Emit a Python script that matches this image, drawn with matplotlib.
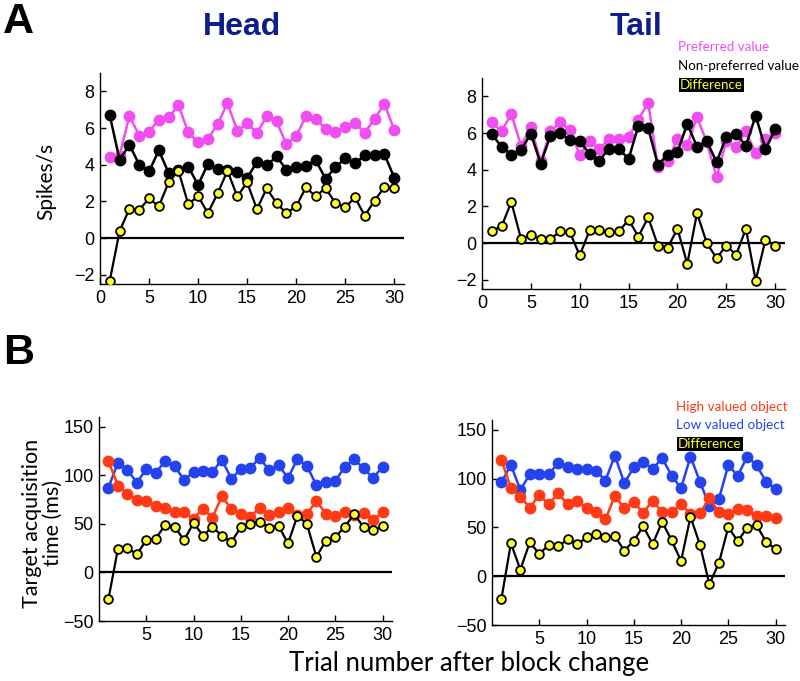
import numpy as np
import matplotlib
matplotlib.use("Agg")
import matplotlib.pyplot as plt

trials = np.arange(1, 31)

# Panel A, head (spikes/s)
head_pref = [4.4, 4.5, 6.67, 5.58, 5.8, 6.45, 6.58, 7.24, 5.76, 5.22,
             5.4, 6.22, 7.35, 5.85, 6.27, 5.73, 6.64, 6.36, 5.13, 5.55,
             6.64, 6.5, 5.96, 5.76, 6.04, 6.27, 5.75, 6.5, 7.33, 5.9]
head_nonpref = [6.69, 4.27, 5.09, 4.0, 3.64, 4.78, 3.55, 3.7, 3.9, 2.9,
                4.03, 3.78, 3.7, 3.6, 3.27, 4.15, 3.96, 4.45, 3.74, 3.86,
                3.95, 4.24, 3.24, 3.85, 4.35, 4.07, 4.53, 4.53, 4.58, 3.3]
head_diff = [-2.31, 0.38, 1.6, 1.55, 2.16, 1.73, 3.05, 3.67, 1.85, 2.29,
             1.36, 2.45, 3.67, 2.27, 3.04, 1.58, 2.71, 1.91, 1.36, 1.73,
             2.76, 2.27, 2.73, 1.91, 1.67, 2.22, 1.22, 2.05, 2.78, 2.74]

# Panel A, tail (spikes/s)
tail_pref = [6.58, 6.09, 7.05, 5.3, 6.33, 4.45, 6.09, 6.58, 6.15, 4.82,
             5.55, 5.15, 5.67, 5.69, 5.78, 6.73, 7.64, 4.15, 4.5, 5.69,
             5.36, 6.87, 5.49, 3.6, 5.55, 5.24, 6.09, 4.9, 5.67, 6.0]
tail_nonpref = [5.96, 5.24, 4.82, 5.09, 5.96, 4.33, 5.85, 6.0, 5.6, 5.55,
                4.87, 4.5, 5.15, 5.15, 4.58, 6.4, 6.27, 4.27, 4.82, 4.96,
                6.51, 5.24, 5.55, 4.42, 5.8, 5.96, 5.31, 6.95, 5.13, 6.2]
tail_diff = [0.67, 0.91, 2.24, 0.22, 0.45, 0.22, 0.22, 0.64, 0.58, -0.67,
             0.69, 0.73, 0.58, 0.64, 1.27, 0.36, 1.4, -0.13, -0.24, 0.78,
             -1.13, 1.64, 0.0, -0.82, -0.13, -0.64, 0.78, -2.04, 0.18, -0.15]

# Panel B, head (ms)
head_high = [114.7, 89.4, 81.2, 75, 73.6, 68.2, 66.4, 62.3, 62.3, 55.5,
             65.8, 56.5, 78.4, 65.4, 60.6, 57.2, 66.4, 59.6, 62.7, 66.8,
             59.0, 60.2, 73.6, 60.6, 57.6, 61.8, 59.5, 60.7, 53.8, 62.4]
head_low = [87.3, 113, 105.8, 92.5, 106.2, 102.7, 114.4, 109.2, 95.5, 103.4,
            104.5, 103.4, 116, 96.6, 106.2, 107.5, 118, 105.1, 110.3, 97.3,
            117, 109.6, 89.7, 93.2, 94.2, 108.6, 116.5, 107, 97.3, 108.6]
head_bdiff = [-27.4, 24, 25.3, 18.5, 33.2, 34.6, 49, 46.9, 33.2, 51,
              38, 46.6, 38, 31.2, 46.6, 50.3, 52.4, 46.2, 47.9, 29.8,
              58.6, 49.7, 16.1, 32.5, 36.6, 46.9, 60.3, 46.3, 43.6, 47.7]

# Panel B, tail (ms)
tail_high = [119.2, 90, 81.5, 70.2, 83.2, 73.6, 84.9, 73.6, 77.1, 70.2,
             66.1, 58.2, 82.5, 69.5, 75.7, 65.1, 77.4, 65.4, 65.4, 74,
             63.7, 64.4, 79.8, 65.4, 63.4, 68.5, 68, 61.5, 61.5, 60]
tail_low = [96.2, 114, 88.4, 104.5, 104.8, 104.5, 115.8, 111.6, 109.6, 109.9,
            108.2, 97.9, 123.6, 95.2, 111.6, 116.8, 109.9, 120.9, 103.1, 90,
            122.6, 96.9, 71.9, 78.8, 113.7, 102.9, 122.6, 113.4, 96.9, 89.4]
tail_bdiff = [-22.9, 33.6, 6.8, 34.6, 22.9, 31.8, 30.5, 37.7, 32.5, 39.7,
              42.8, 39.7, 40.8, 26.2, 36.3, 51, 33, 55.6, 36.8, 15.6,
              60.8, 32.3, -8.3, 13.4, 50.1, 36, 49.6, 52, 35.3, 27.7]

W, H = 800, 681
PINK = '#f04ef0'
RED = '#ff3a14'
BLUE = '#2443ee'
YELLOW = '#ffff2a'
NAVY = '#0c1d8c'
TICKFONT = 'Liberation Sans'
LABELFONT = 'Lato'


def px_axes(fig, left, top, right, bottom):
    return fig.add_axes([left / W, 1 - bottom / H, (right - left) / W, (bottom - top) / H])


def style(ax, xlim, ylim, xticks, yticks):
    ax.set_xlim(*xlim)
    ax.set_ylim(*ylim)
    ax.set_xticks(xticks)
    ax.set_yticks(yticks)
    for s in ['top', 'right']:
        ax.spines[s].set_visible(False)
    for s in ['left', 'bottom']:
        ax.spines[s].set_linewidth(1.0)
    ax.tick_params(direction='in', length=4, width=1, labelsize=13, pad=4)
    for lab in ax.get_xticklabels() + ax.get_yticklabels():
        lab.set_family(TICKFONT)
    ax.axhline(0, color='black', lw=1.6, zorder=1)


def series(ax, y, color):
    ax.plot(trials, y, '-o', color=color, lw=1.8, ms=7.5, mec=color, zorder=3)


def diff(ax, y):
    ax.plot(trials, y, '-o', color='black', lw=1.6, ms=6.3, mfc=YELLOW,
            mec='black', mew=1.3, zorder=4)


fig = plt.figure(figsize=(W / 100, H / 100), dpi=100)

a1 = px_axes(fig, 100, 73, 404, 284)
series(a1, head_pref, PINK)
series(a1, head_nonpref, 'black')
diff(a1, head_diff)
style(a1, (0, 31), (-2.5, 9), range(0, 31, 5), range(-2, 9, 2))

a2 = px_axes(fig, 482, 78, 785, 289)
series(a2, tail_pref, PINK)
series(a2, tail_nonpref, 'black')
diff(a2, tail_diff)
style(a2, (0, 31), (-2.5, 9), range(0, 31, 5), range(-2, 9, 2))

b1 = px_axes(fig, 99, 417, 392, 621)
series(b1, head_low, BLUE)
series(b1, head_high, RED)
diff(b1, head_bdiff)
style(b1, (0, 31), (-50, 160), range(5, 31, 5), range(-50, 151, 50))

b2 = px_axes(fig, 492, 420, 785, 625)
series(b2, tail_low, BLUE)
series(b2, tail_high, RED)
diff(b2, tail_bdiff)
style(b2, (0, 31), (-50, 160), range(5, 31, 5), range(-50, 151, 50))

# titles and panel letters
fig.text(242 / W, 1 - 27 / H, 'Head', ha='center', va='center', fontsize=23,
         fontweight='bold', color=NAVY, family=TICKFONT)
fig.text(636 / W, 1 - 27 / H, 'Tail', ha='center', va='center', fontsize=23,
         fontweight='bold', color=NAVY, family=TICKFONT)
fig.text(3 / W, 1 - 22 / H, 'A', ha='left', va='center', fontsize=31,
         fontweight='bold', family=TICKFONT)
fig.text(3 / W, 1 - 353 / H, 'B', ha='left', va='center', fontsize=31,
         fontweight='bold', family=TICKFONT)

# axis labels
fig.text(46 / W, 1 - 181 / H, 'Spikes/s', rotation=90, ha='center', va='center',
         fontsize=15, family=LABELFONT)
fig.text(42 / W, 1 - 523 / H, 'Target acquisition\ntime (ms)', rotation=90,
         ha='center', va='center', fontsize=15.5, family=LABELFONT, linespacing=1.05)
fig.text(469 / W, 1 - 664 / H, 'Trial number after block change', ha='center',
         va='center', fontsize=18.5, family=LABELFONT)

# legends
fig.text(678 / W, 1 - 47 / H, 'Preferred value', color=PINK, fontsize=9.6,
         family=LABELFONT, va='center')
fig.text(678 / W, 1 - 66 / H, 'Non-preferred value', color='black', fontsize=9.6,
         family=LABELFONT, va='center')
fig.text(680 / W, 1 - 85 / H, 'Difference', color=YELLOW, fontsize=9.6,
         family=LABELFONT, va='center',
         bbox=dict(facecolor='black', edgecolor='none', pad=1.0))

fig.text(676 / W, 1 - 407 / H, 'High valued object', color=RED, fontsize=9.7,
         family=LABELFONT, va='center')
fig.text(676 / W, 1 - 425 / H, 'Low valued object', color=BLUE, fontsize=9.7,
         family=LABELFONT, va='center')
fig.text(678 / W, 1 - 444 / H, 'Difference', color=YELLOW, fontsize=9.7,
         family=LABELFONT, va='center',
         bbox=dict(facecolor='black', edgecolor='none', pad=1.0))

fig.savefig('out.png', dpi=100)
